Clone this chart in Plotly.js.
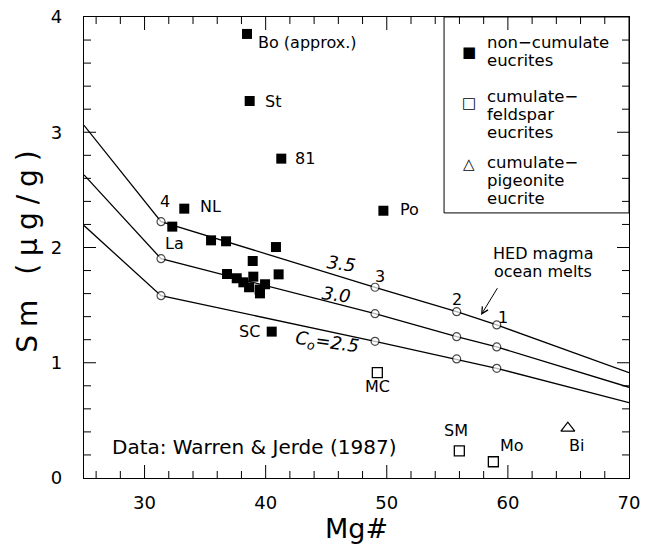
<!DOCTYPE html>
<html>
<head>
<meta charset="utf-8">
<script src="https://cdn.plot.ly/plotly-3.0.1.min.js"></script>
<style>html,body{margin:0;padding:0;background:#fff;}#chart{width:651px;height:544px;}</style>
</head>
<body>
<div id="chart"></div>
<script>
// ---- Data ----
// Non-cumulate eucrites (filled squares)
const ncX = [38.46, 38.68, 41.29, 33.28, 49.72, 32.29, 35.49, 36.73, 40.85, 38.93, 41.07, 36.81, 37.61, 38.16, 38.98, 38.63, 39.95, 39.53, 39.50, 40.50];
const ncY = [3.853, 3.271, 2.771, 2.337, 2.319, 2.181, 2.062, 2.054, 2.004, 1.883, 1.767, 1.770, 1.733, 1.698, 1.747, 1.655, 1.681, 1.602, 1.635, 1.270];
// Cumulate-feldspar eucrites (open squares): MC, SM, Mo
const cfX = [49.22, 55.99, 58.80];
const cfY = [0.914, 0.235, 0.141];
// Cumulate-pigeonite eucrite (open triangle): Bi
const cpX = [64.95];
const cpY = [0.432];
// HED magma ocean melt model lines (ends at axis limits, circles at melt stages 4,3,2,1)
const meltX = [25, 31.36, 49.03, 55.77, 59.08, 70];
const melt35 = [3.06, 2.224, 1.655, 1.443, 1.328, 0.914];
const melt30 = [2.63, 1.903, 1.426, 1.226, 1.137, 0.787];
const melt25 = [2.19, 1.582, 1.186, 1.033, 0.952, 0.653];
const meltMarkerSize = [0, 8, 8, 8, 8, 0];
// Tick labels / tick positions
const yTickVals = [0, 1, 2, 3, 4];
const yTickText = ['0\u00a0\u00a0\u00a0', '1\u00a0\u00a0\u00a0', '2\u00a0\u00a0\u00a0', '3\u00a0\u00a0\u00a0', '4\u00a0\u00a0\u00a0'];
const xMajorTicks = [30, 40, 50, 60];
const xMinorTicks = [26, 28, 32, 34, 36, 38, 42, 44, 46, 48, 52, 54, 56, 58, 62, 64, 66, 68];
const yMajorTicks = [1, 2, 3];
const yMinorTicks = [0.2, 0.4, 0.6, 0.8, 1.2, 1.4, 1.6, 1.8, 2.2, 2.4, 2.6, 2.8, 3.2, 3.4, 3.6, 3.8];

const FONT = 'DejaVu Sans, sans-serif';

function lineTrace(y) {
  return {
    x: meltX, y: y, type: 'scatter', mode: 'lines+markers',
    line: {color: '#000', width: 1.3},
    marker: {symbol: 'circle', size: meltMarkerSize, color: '#fff', line: {color: '#000', width: 1.2}},
    showlegend: false, hoverinfo: 'skip'
  };
}

const traces = [
  lineTrace(melt35), lineTrace(melt30), lineTrace(melt25),
  {x: ncX, y: ncY, type: 'scatter', mode: 'markers', name: 'non-cumulate eucrites',
   marker: {symbol: 'square', size: 10, color: '#000'}, showlegend: false},
  {x: cfX, y: cfY, type: 'scatter', mode: 'markers', name: 'cumulate-feldspar eucrites',
   marker: {symbol: 'square-open', size: 10, color: '#000', line: {width: 1.3}}, showlegend: false},
  {x: cpX, y: cpY, type: 'scatter', mode: 'markers', name: 'cumulate-pigeonite eucrite',
   marker: {symbol: 'triangle-up-open', size: 12, color: '#000', line: {width: 1.3}}, showlegend: false}
];

function lab(text, x, y, xanchor, size, extra) {
  return Object.assign({text: text, x: x, y: y, xref: 'x', yref: 'y', showarrow: false,
    xanchor: xanchor || 'center', yanchor: 'middle',
    font: {family: FONT, size: size || 16, color: '#000'}}, extra || {});
}

const annotations = [
  lab('Bo (approx.)', 39.2, 3.777, 'left'),
  lab('St', 39.75, 3.271, 'left'),
  lab('81', 42.23, 2.771, 'left'),
  lab('NL', 34.39, 2.354, 'left'),
  lab('Po', 50.96, 2.331, 'left'),
  lab('4', 31.7, 2.398),
  lab('La', 32.46, 2.036),
  lab('SC', 38.7, 1.27),
  lab('3', 49.44, 1.747),
  lab('2', 55.77, 1.545),
  lab('1', 59.63, 1.394),
  lab('MC', 49.22, 0.792),
  lab('SM', 55.72, 0.416),
  lab('Mo', 60.31, 0.286),
  lab('Bi', 65.65, 0.278),
  lab('<i>3.5</i>', 46.27, 1.863, 'center', 18, {textangle: 8}),
  lab('<i>3.0</i>', 45.86, 1.588, 'center', 18, {textangle: 8}),
  lab('<i>C<sub>o</sub>=2.5</i>', 45.04, 1.169, 'center', 18, {textangle: 8}),
  lab('Data: Warren & Jerde (1987)', 27.18, 0.269, 'left', 20),
  lab('HED magma', 62.93, 1.945, 'center', 16),
  lab('ocean melts', 62.93, 1.790, 'center', 16),
  // arrow
  {x: 57.78, y: 1.414, ax: 59.21, ay: 1.66, xref: 'x', yref: 'y', axref: 'x', ayref: 'y',
   text: '', showarrow: true, arrowhead: 5, arrowsize: 1.3, arrowwidth: 1, arrowcolor: '#000'},
  // legend
  lab('■', 56.79, 3.699, 'center', 15),
  lab('non−cumulate', 58.11, 3.780, 'left', 16.5),
  lab('eucrites', 58.11, 3.624, 'left', 16.5),
  lab('□', 56.79, 3.251, 'center', 15),
  lab('cumulate−', 58.11, 3.312, 'left', 16.5),
  lab('feldspar', 58.11, 3.156, 'left', 16.5),
  lab('eucrites', 58.11, 3.000, 'left', 16.5),
  lab('△', 56.79, 2.725, 'center', 15),
  lab('cumulate−', 58.11, 2.734, 'left', 16.5),
  lab('pigeonite', 58.11, 2.578, 'left', 16.5),
  lab('eucrite', 58.11, 2.422, 'left', 16.5)
];

// inward tick marks on all four sides, drawn as pixel-sized shapes anchored to the axis values
const TICK = {color: '#000', width: 1};
const shapes = [
  {type: 'rect', xref: 'x', yref: 'y', x0: 54.73, x1: 70, y0: 2.30, y1: 4,
   line: {color: '#000', width: 1}}
];
function xTick(v, len) {
  shapes.push({type: 'line', xref: 'x', yref: 'paper', ysizemode: 'pixel', yanchor: 0,
    x0: v, x1: v, y0: 0, y1: len, line: TICK});
  shapes.push({type: 'line', xref: 'x', yref: 'paper', ysizemode: 'pixel', yanchor: 1,
    x0: v, x1: v, y0: 0, y1: -len, line: TICK});
}
function yTick(v, len) {
  shapes.push({type: 'line', xref: 'paper', yref: 'y', xsizemode: 'pixel', xanchor: 0,
    x0: 0, x1: len, y0: v, y1: v, line: TICK});
  shapes.push({type: 'line', xref: 'paper', yref: 'y', xsizemode: 'pixel', xanchor: 1,
    x0: 0, x1: -len, y0: v, y1: v, line: TICK});
}
xMajorTicks.forEach(function (v) { xTick(v, 13); });
xMinorTicks.forEach(function (v) { xTick(v, 7); });
yMajorTicks.forEach(function (v) { yTick(v, 12); });
yMinorTicks.forEach(function (v) { yTick(v, 7); });

const layout = {
  width: 651, height: 544,
  margin: {l: 84, r: 22, t: 17, b: 66},
  paper_bgcolor: '#fff', plot_bgcolor: '#fff',
  showlegend: false,
  xaxis: {
    range: [25, 70], tick0: 0, dtick: 10,
    showgrid: false, zeroline: false, showline: true, mirror: true, linecolor: '#000', linewidth: 1.3,
    ticks: '', tickfont: {family: FONT, size: 18, color: '#000'}, ticklabelstandoff: 8,
    title: {text: 'Mg#', font: {family: FONT, size: 27, color: '#000'}, standoff: 6}
  },
  yaxis: {
    range: [0, 4], tickmode: 'array', tickvals: yTickVals, ticktext: yTickText,
    showgrid: false, zeroline: false, showline: true, mirror: true, linecolor: '#000', linewidth: 1.3,
    ticks: '', tickfont: {family: FONT, size: 18, color: '#000'},
    title: {text: 'Sm (μg/g)', font: {family: FONT, size: 28, color: '#000'}, standoff: 4}
  },
  shapes: shapes,
  annotations: annotations
};

Plotly.newPlot('chart', traces, layout, {displayModeBar: false}).then(function () {
  document.querySelectorAll('.ytitle').forEach(function (el) { el.style.letterSpacing = '8px'; });
});
</script>
</body>
</html>
